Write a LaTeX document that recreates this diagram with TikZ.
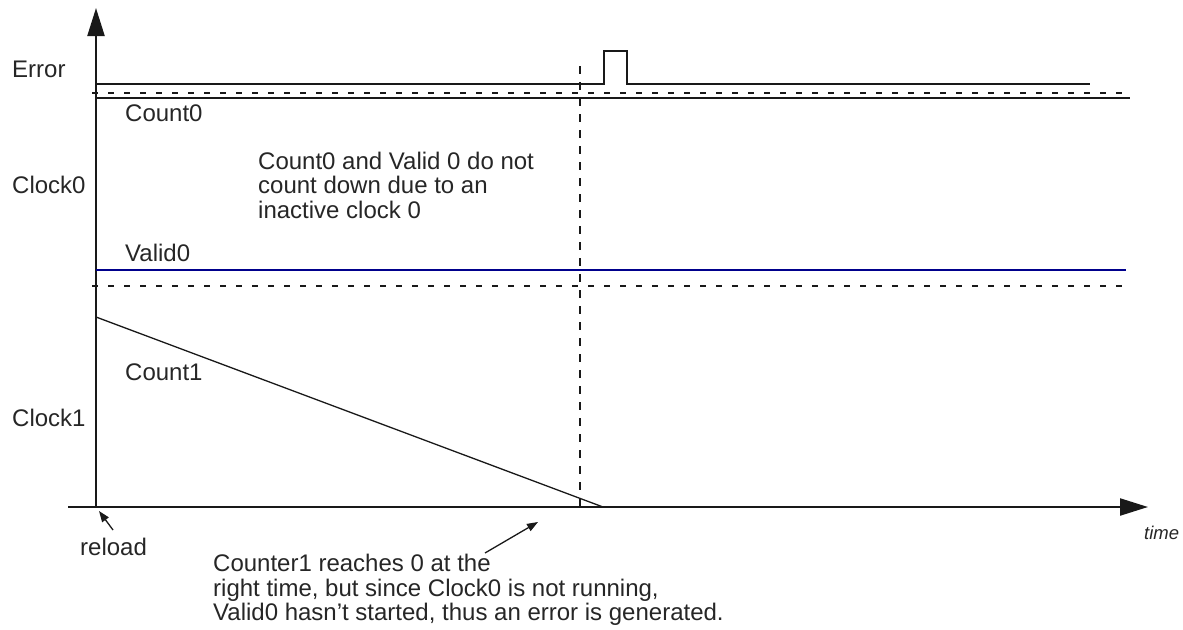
\documentclass[tikz,border=0pt]{standalone}
\usepackage{fontspec}
\setmainfont{Liberation Sans}
\usetikzlibrary{arrows.meta}
\tikzset{
  lbl/.style={inner sep=0pt, anchor=west, font=\fontsize{24}{24.5}\selectfont, text=black!85},
  para/.style={lbl, align=left},
  sig/.style={line width=2pt, black!90},
  sep/.style={line width=2pt, dash pattern=on 6pt off 10pt, black!90},
  axis/.style={line width=2.2pt, black!90, -{Triangle[length=28pt,width=17pt]}},
  ptr/.style={line width=1.3pt, black!90, -{Triangle[length=11pt,width=8pt]}},
}
\begin{document}
\begin{tikzpicture}[x=1pt,y=-1pt]
\useasboundingbox (0,0) rectangle (1183,629);
% axes
\coordinate (o) at (96,507);
\coordinate (ytip) at (96,8);
\coordinate (xs) at (68,507);
\coordinate (xtip) at (1148,507);
\draw[axis] (o) -- (ytip);
\draw[axis] (xs) -- (xtip);
% Error signal
\draw[sig] (96,84) -- (604,84) -- (604,51) -- (627,51) -- (627,84) -- (1090,84);
\draw[sep] (92,92.5) -- (1128,92.5);
\draw[sig] (96,98) -- (1130,98);
% Valid0
\draw[line width=2pt, blue!55!black] (96,270) -- (1126,270);
\draw[sep] (92,286) -- (1130,286);
% Count1 ramp
\draw[line width=1.3pt, black!90] (96,317) -- (603,507);
% vertical dashed marker
\draw[line width=2pt, dash pattern=on 8pt off 8pt, black!90] (580,66) -- (580,507);
% labels
\node[lbl] (err) at (12,69) {Error};
\node[lbl] (clk0) at (12,185) {Clock0};
\node[lbl] (clk1) at (12,418) {Clock1};
\node[lbl] (cnt0) at (125,113) {Count0};
\node[lbl] (val0) at (125,253) {Valid0};
\node[lbl] (cnt1) at (125,372) {Count1};
\node[para] (note0) at (258,185) {Count0 and Valid 0 do not\\count down due to an\\inactive clock 0};
\node[lbl, font=\fontsize{18.5}{20}\selectfont\itshape] (time) at (1144,533) {time};
\node[lbl] (reload) at (80,547) {reload};
\node[para] (note1) at (213,590) {Counter1 reaches 0 at the\\right time, but since Clock0 is not running,\\Valid0 hasn't started, thus an error is generated.};
% pointers
\coordinate (rtail) at (113,530);
\coordinate (rtip) at (99,511);
\draw[ptr] (rtail) -- (rtip);
\coordinate (ctail) at (485,553);
\coordinate (ctip) at (538,522);
\draw[ptr] (ctail) -- (ctip);
\end{tikzpicture}
\end{document}
